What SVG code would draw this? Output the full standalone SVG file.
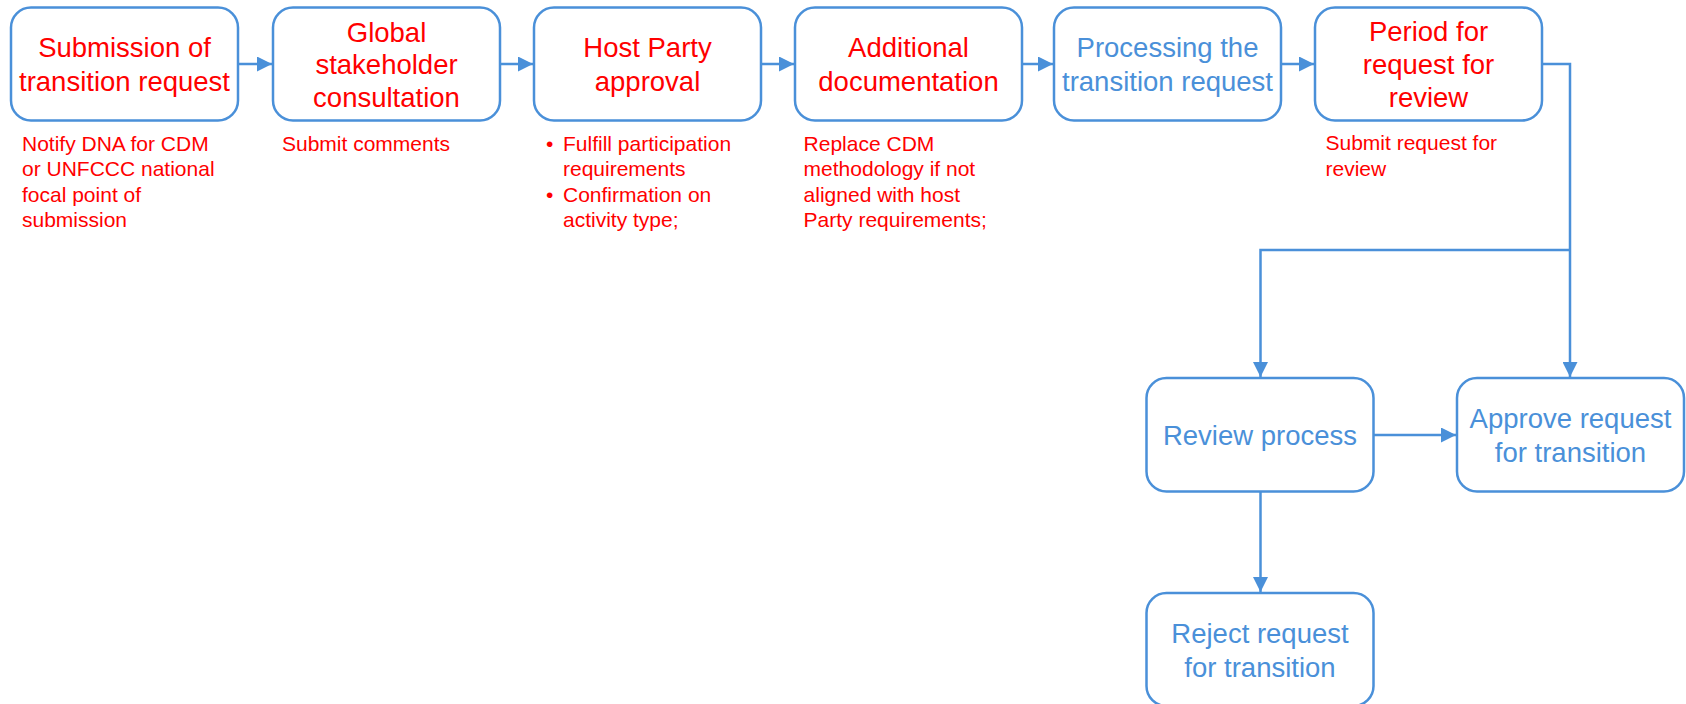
<svg xmlns="http://www.w3.org/2000/svg" width="1686" height="704" viewBox="0 0 1686 704">
<style>
.box{fill:#fff;stroke:#4A90D9;stroke-width:2.5}
.t{font-family:"Liberation Sans",Arial,sans-serif;font-size:27.5px;text-anchor:middle}
.red{fill:#FF0000}
.blue{fill:#4A90D9}
.s{font-family:"Liberation Sans",Arial,sans-serif;font-size:21px;fill:#FF0000}
.c{fill:none;stroke:#4A90D9;stroke-width:2.5}
</style>
<defs>
<marker id="ah" markerUnits="userSpaceOnUse" markerWidth="15" markerHeight="15" refX="15" refY="7.5" orient="auto">
<path d="M0,0 L15,7.5 L0,15 z" fill="#4A90D9"/>
</marker>
</defs>
<rect width="1686" height="704" fill="#fff"/>
<g id="connectors">
<path class="c" d="M238 64 H272" marker-end="url(#ah)"/>
<path class="c" d="M500 64 H533" marker-end="url(#ah)"/>
<path class="c" d="M761 64 H794" marker-end="url(#ah)"/>
<path class="c" d="M1022 64 H1053" marker-end="url(#ah)"/>
<path class="c" d="M1281 64 H1314" marker-end="url(#ah)"/>
<path class="c" d="M1542 64 H1570 V377" marker-end="url(#ah)"/>
<path class="c" d="M1570 250 H1260.5 V377" marker-end="url(#ah)"/>
<path class="c" d="M1374 435 H1456" marker-end="url(#ah)"/>
<path class="c" d="M1260.5 492 V592" marker-end="url(#ah)"/>
</g>
<g id="n1">
<rect class="box" x="11" y="7.5" width="227" height="113" rx="20"/>
<text class="t red" x="124.5" y="57.3">Submission of</text>
<text class="t red" x="124.5" y="90.7">transition request</text>
<text class="s" x="22" y="150.5">Notify DNA for CDM</text>
<text class="s" x="22" y="176">or UNFCCC national</text>
<text class="s" x="22" y="201.5">focal point of</text>
<text class="s" x="22" y="226.7">submission</text>
</g>
<g id="n2">
<rect class="box" x="273" y="7.5" width="227" height="113" rx="20"/>
<text class="t red" x="386.5" y="41.7">Global</text>
<text class="t red" x="386.5" y="74">stakeholder</text>
<text class="t red" x="386.5" y="107.3">consultation</text>
<text class="s" x="282" y="150.5">Submit comments</text>
</g>
<g id="n3">
<rect class="box" x="534" y="7.5" width="227" height="113" rx="20"/>
<text class="t red" x="647.5" y="57.3">Host Party</text>
<text class="t red" x="647.5" y="90.7">approval</text>
<text class="s" x="546" y="150.5">•</text>
<text class="s" x="563" y="150.5">Fulfill participation</text>
<text class="s" x="563" y="176">requirements</text>
<text class="s" x="546" y="201.5">•</text>
<text class="s" x="563" y="201.5">Confirmation on</text>
<text class="s" x="563" y="226.7">activity type;</text>
</g>
<g id="n4">
<rect class="box" x="795" y="7.5" width="227" height="113" rx="20"/>
<text class="t red" x="908.5" y="57.3">Additional</text>
<text class="t red" x="908.5" y="90.7">documentation</text>
<text class="s" x="803.6" y="150.5">Replace CDM</text>
<text class="s" x="803.6" y="176">methodology if not</text>
<text class="s" x="803.6" y="201.5">aligned with host</text>
<text class="s" x="803.6" y="226.7">Party requirements;</text>
</g>
<g id="n5">
<rect class="box" x="1054" y="7.5" width="227" height="113" rx="20"/>
<text class="t blue" x="1167.5" y="57.3">Processing the</text>
<text class="t blue" x="1167.5" y="90.7">transition request</text>
</g>
<g id="n6">
<rect class="box" x="1315" y="7.5" width="227" height="113" rx="20"/>
<text class="t red" x="1428.5" y="40.7">Period for</text>
<text class="t red" x="1428.5" y="74">request for</text>
<text class="t red" x="1428.5" y="107.3">review</text>
<text class="s" x="1325.5" y="150">Submit request for</text>
<text class="s" x="1325.5" y="175.5">review</text>
</g>
<g id="n7">
<rect class="box" x="1146.5" y="378" width="227" height="113.5" rx="20"/>
<text class="t blue" x="1260" y="445">Review process</text>
</g>
<g id="n8">
<rect class="box" x="1457" y="378" width="227" height="113.5" rx="20"/>
<text class="t blue" x="1570.5" y="428.3">Approve request</text>
<text class="t blue" x="1570.5" y="461.7">for transition</text>
</g>
<g id="n9">
<rect class="box" x="1146.5" y="593" width="227" height="113" rx="20"/>
<text class="t blue" x="1260" y="643.3">Reject request</text>
<text class="t blue" x="1260" y="676.7">for transition</text>
</g>
</svg>
